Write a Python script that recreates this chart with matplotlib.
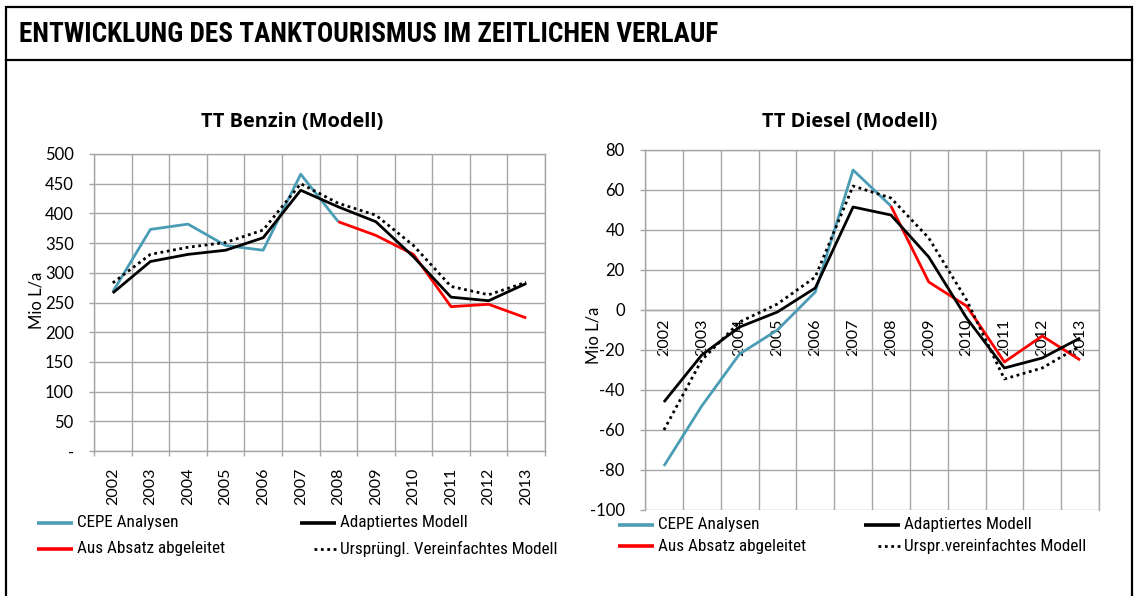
import numpy as np
import matplotlib
matplotlib.use("Agg")
import matplotlib.pyplot as plt
from matplotlib.lines import Line2D
from matplotlib.patches import Rectangle
from matplotlib import font_manager as fm

# ---------------- data ----------------
years = ["2002", "2003", "2004", "2005", "2006", "2007",
         "2008", "2009", "2010", "2011", "2012", "2013"]

# TT Benzin (Modell)
benzin_cepe = [268, 373, 382, 346, 338, 466, 386, None, None, None, None, None]
benzin_absatz = [None, None, None, None, None, None, 386, 363, 331, 243, 247, 224]
benzin_adapt = [266, 319, 331, 338, 359, 439, 411, 386, 327, 259, 253, 282]
benzin_urspr = [283, 331, 343, 351, 372, 450, 417, 397, 346, 277, 263, 284]

# TT Diesel (Modell)
diesel_cepe = [-78, -48, -22, -10, 9, 70, 52, None, None, None, None, None]
diesel_absatz = [None, None, None, None, None, None, 52, 14, 2, -26, -13, -25]
diesel_adapt = [-46, -22.5, -8.5, -1, 11, 51.5, 47.5, 26.5, -4, -29, -24, -14]
diesel_urspr = [-60, -25, -6, 3, 16.5, 62, 56, 36, 5, -34.5, -29, -18]

benzin_ticks = [0, 50, 100, 150, 200, 250, 300, 350, 400, 450, 500]
benzin_ticklabels = ["-", "50", "100", "150", "200", "250", "300", "350", "400", "450", "500"]
diesel_ticks = [-100, -80, -60, -40, -20, 0, 20, 40, 60, 80]
diesel_ticklabels = ["-100", "-80", "-60", "-40", "-20", "0", "20", "40", "60", "80"]

title_main = "ENTWICKLUNG DES TANKTOURISMUS IM ZEITLICHEN VERLAUF"
title_benzin = "TT Benzin (Modell)"
title_diesel = "TT Diesel (Modell)"
ylabel = "Mio L/a"
legend_benzin = ["CEPE Analysen", "Aus Absatz abgeleitet", "Adaptiertes Modell", "Ursprüngl. Vereinfachtes Modell"]
legend_diesel = ["CEPE Analysen", "Aus Absatz abgeleitet", "Adaptiertes Modell", "Urspr.vereinfachtes Modell"]

# ---------------- style ----------------
W, H = 1134, 596
BLUE = "#4A9DB5"
RED = "#FF0000"
BLACK = "#000000"
GRID = "#A6A6A6"
TICKFONT = "Lato"
TITLEFONT = ["Open Sans", "DejaVu Sans"]

installed = {f.name for f in fm.fontManager.ttflist}
NARROW_NAME = "DejaVu Sans"
for cand in ["Roboto Condensed", "Open Sans Condensed", "Fira Sans Condensed",
             "IBM Plex Sans Condensed", "PT Sans Narrow", "Asap Condensed",
             "Archivo Narrow", "Barlow Condensed", "Liberation Sans Narrow"]:
    if cand in installed:
        NARROW_NAME = cand
        break
NARROW = [NARROW_NAME, "DejaVu Sans"]

fig = plt.figure(figsize=(W / 100, H / 100), dpi=100)
fig.patch.set_facecolor("white")
renderer = fig.canvas.get_renderer()


def fx(px):
    return px / W


def fy(py):
    return 1 - py / H


def fit_width(txt, target_px):
    bb = txt.get_window_extent(renderer)
    if bb.width > 0:
        txt.set_fontsize(txt.get_fontsize() * target_px / bb.width)
    return txt.get_fontsize()


# frame and header
fig.add_artist(Rectangle((fx(6), fy(640)), fx(1132) - fx(6), fy(7) - fy(640),
                         transform=fig.transFigure, fill=False, lw=1.6,
                         edgecolor="black"))
fig.add_artist(Line2D([fx(6), fx(1132)], [fy(59.5), fy(59.5)],
                      transform=fig.transFigure, lw=1.6, color="black"))
t = fig.text(fx(19), fy(34), title_main, fontsize=19, fontweight="bold",
             family=NARROW, ha="left", va="center")
fit_width(t, 700)

x = np.arange(len(years))


def to_arr(v):
    return np.array([np.nan if a is None else a for a in v], dtype=float)


line_styles = [
    dict(color=BLUE, lw=2.0, ls="-"),
    dict(color=RED, lw=2.0, ls="-"),
    dict(color=BLACK, lw=2.0, ls="-"),
    dict(color=BLACK, lw=2.0, ls=(0, (1, 1.3))),
]


def make_axes(rect, series, ticks, ticklabels, ylim, zero_axis):
    ax = fig.add_axes(rect)
    if zero_axis:
        ax.spines["bottom"].set_position(("data", 0))
    for s, st in zip(series, line_styles):
        ax.plot(x, to_arr(s), solid_capstyle="butt", dash_capstyle="butt", **st,
                zorder=3)
    ax.set_xlim(-0.5, len(years) - 0.5)
    ax.set_ylim(*ylim)
    ax.set_yticks(ticks)
    ax.set_yticklabels(ticklabels, fontsize=12, family=TICKFONT)
    ax.set_xticks(x)
    ax.set_xticklabels(years, rotation=90, fontsize=11.5, family=TICKFONT)
    ax.set_xticks(np.arange(-0.5, len(years), 1), minor=True)
    ax.grid(True, axis="y", which="major", color=GRID, lw=1.0)
    ax.grid(True, axis="x", which="minor", color=GRID, lw=1.0)
    ax.set_axisbelow(True)
    for sp in ax.spines.values():
        sp.set_color(GRID)
        sp.set_linewidth(1.0)
    ax.tick_params(axis="y", length=3.6, color=GRID, width=1.0, pad=11)
    ax.tick_params(axis="x", which="major", length=0)
    if zero_axis:
        ax.tick_params(axis="x", which="minor", length=0)
        ax.tick_params(axis="x", which="major", pad=6)
    else:
        ax.tick_params(axis="x", which="minor", length=3.6, color=GRID, width=1.0)
        ax.tick_params(axis="x", which="major", pad=12)
    return ax


axL = make_axes([fx(94), fy(451), fx(545) - fx(94), fy(154) - fy(451)],
                [benzin_cepe, benzin_absatz, benzin_adapt, benzin_urspr],
                benzin_ticks, benzin_ticklabels, (0, 500), False)
axR = make_axes([fx(645), fy(510), fx(1099) - fx(645), fy(150) - fy(510)],
                [diesel_cepe, diesel_absatz, diesel_adapt, diesel_urspr],
                diesel_ticks, diesel_ticklabels, (-100, 80), True)

# chart titles
t1 = fig.text(fx(292), fy(122), title_benzin, fontsize=13, fontweight="bold",
              family=TITLEFONT, ha="center", va="center")
fs = fit_width(t1, 182)
fig.text(fx(850), fy(122), title_diesel, fontsize=fs, fontweight="bold",
         family=TITLEFONT, ha="center", va="center")

# y labels
fig.text(fx(37), fy(300), ylabel, rotation=90, fontsize=12, family=TICKFONT,
         ha="center", va="center")
fig.text(fx(593), fy(335), ylabel, rotation=90, fontsize=12, family=TICKFONT,
         ha="center", va="center")

# legend font size fitted on the longest label
probe = fig.text(0, 0, legend_benzin[3], fontsize=10.5, family=NARROW)
LEG_FS = fit_width(probe, 219)
probe.remove()


def legend(labels, cols, rows):
    # order: col1 row1, col1 row2, col2 row1, col2 row2
    idx = 0
    for cx in cols:
        for ry in rows:
            st = line_styles[idx]
            if idx == 3:
                xs = [fx(cx + 14), fx(cx + 36)]
            else:
                xs = [fx(cx), fx(cx + 36)]
            fig.add_artist(Line2D(xs, [fy(ry), fy(ry)], transform=fig.transFigure,
                                  color=st["color"], lw=2.6 if idx < 3 else 2.0,
                                  ls=st["ls"], solid_capstyle="butt",
                                  dash_capstyle="butt"))
            fig.text(fx(cx + 40), fy(ry), labels[idx], fontsize=LEG_FS, family=NARROW,
                     ha="left", va="center")
            idx += 1


legend(legend_benzin, [37, 300], [523, 549])
legend(legend_diesel, [618, 864], [525, 546])

fig.savefig("out.png", dpi=100, facecolor="white")
